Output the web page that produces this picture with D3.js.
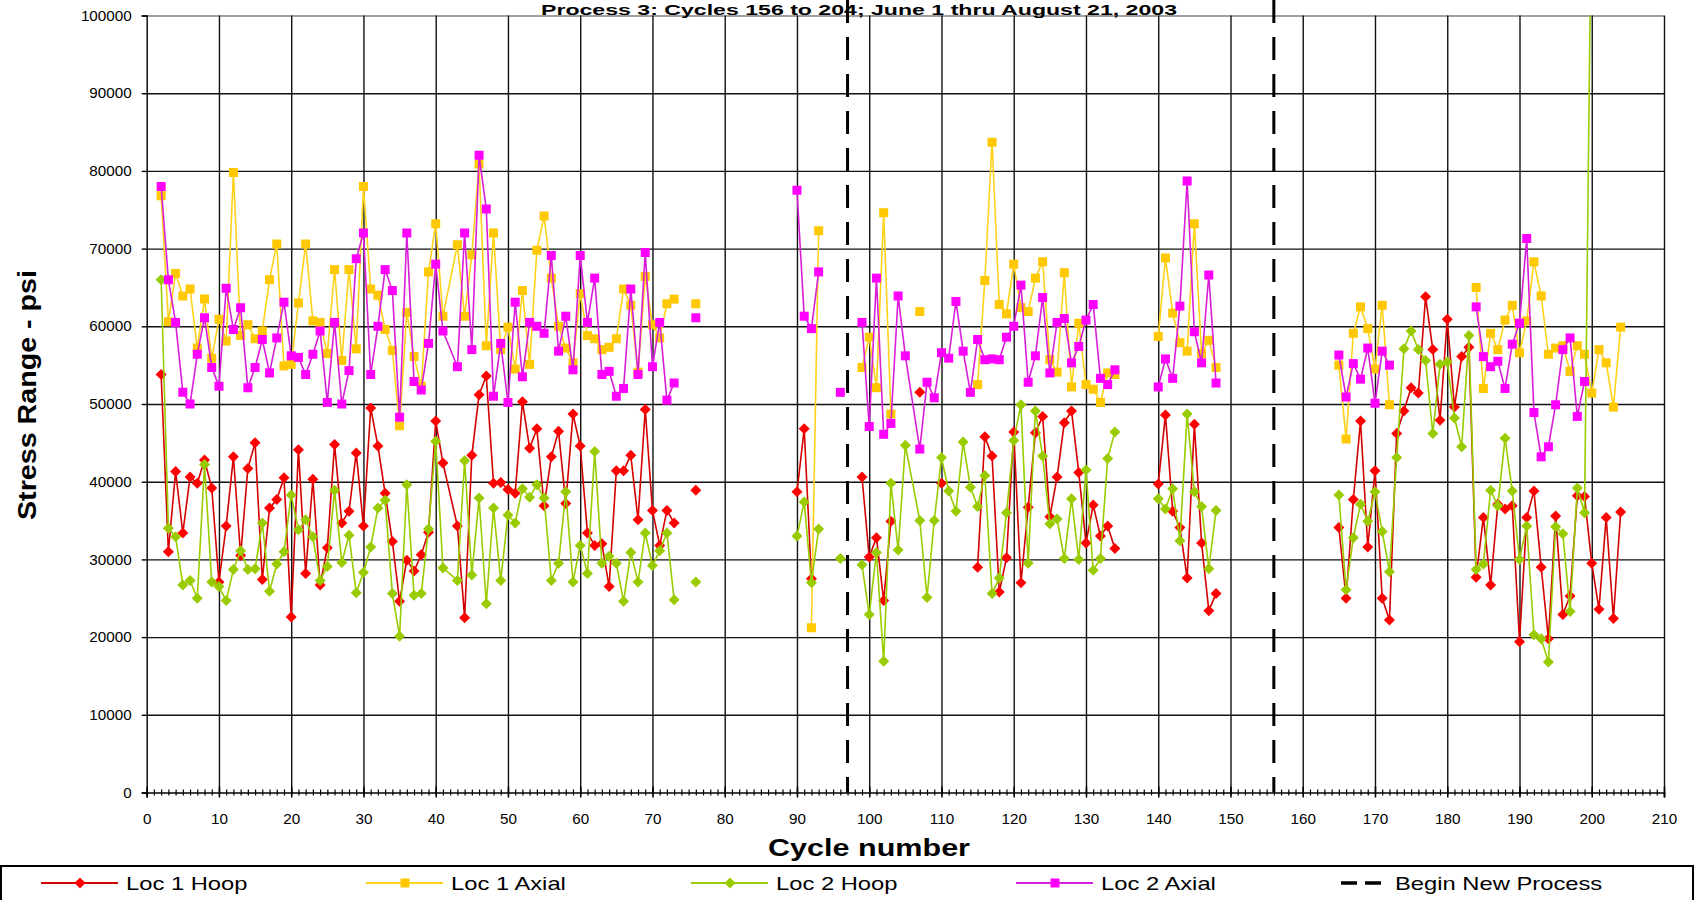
<!DOCTYPE html>
<html>
<head>
<meta charset="utf-8">
<script src="https://cdnjs.cloudflare.com/ajax/libs/d3/7.8.5/d3.min.js"></script>
<style>
  html, body { margin: 0; padding: 0; background: #fff; }
  svg { display: block; font-family: "Liberation Sans", Arial, sans-serif; }
</style>
</head>
<body>
<svg id="chart"></svg>
<script>
// cycle numbers; a row of nulls breaks the lines (blank rows in the sheet)
const cycles = [
  2, 3, 4, 5, 6, 7, 8, 9, 10, 11, 12, 13, 14, 15, 16, 17, 18, 19, 20, 21,
  22, 23, 24, 25, 26, 27, 28, 29, 30, 31, 32, 33, 34, 35, 36, 37, 38, 39, 40, 41,
  43, 44, 45, 46, 47, 48, 49, 50, 51, 52, 53, 54, 55, 56, 57, 58, 59, 60, 61, 62,
  63, 64, 65, 66, 67, 68, 69, 70, 71, 72, 73, 74,
  76, 77,
  90, 91, 92, 93, 94,
  96, 97,
  99, 100, 101, 102, 103, 104, 105,
  107, 108, 109, 110, 111, 112, 113, 114, 115, 116, 117, 118, 119, 120, 121, 122, 123, 124, 125, 126,
  127, 128, 129, 130, 131, 132, 133, 134, 135,
  140, 141, 142, 143, 144, 145, 146, 147, 148, 149,
  165, 166, 167, 168, 169, 170, 171, 172, 173, 174, 175, 176, 177, 178, 179, 180, 181, 182, 183, 184,
  185, 186, 187, 188, 189, 190, 191, 192, 193, 194, 195, 196, 197, 198, 199, 200, 201, 202, 203, 204
];

const loc1Hoop = [
  53800, 31000, 41300, 33400, 40600, 39800, 42800, 39200, 27100, 34300,
  43200, 30500, 41700, 45000, 27400, 36600, 37700, 40500, 22600, 44100,
  28200, 40300, 26700, 31500, 44800, 34700, 36200, 43700, 34300, 49500,
  44600, 38500, 32300, 24600, 29900, 28500, 30600, 33500, 47800, 42400,
  34300, 22500, 43400, 51200, 53600, 39800, 39900, 39000, 38500, 50300,
  44300, 46800, 36900, 43200, 46500, 37200, 48700, 44600, 33400, 31800,
  32000, 26500, 41400, 41400, 43400, 35100, 49300, 36300, 31800, 36300,
  34700, null,
  38900, null,
  38700, 46800, 27500, null, null,
  null, null,
  40600, 30300, 32800, 24700, 34900, null, null,
  51500, null, null, 39800, null, null, null, null, 29000, 45800,
  43300, 25800, 30200, 46400, 27000, 36700, 46300, 48400, 35500, 40600,
  47600, 49100, 41200, 32100, 37000, 33000, 34300, 31400, null,
  39700, 48600, 36200, 34100, 27600, 47400, 32100, 23400, 25600, null,
  34100, 25000, 37700, 47800, 31600, 41400, 25000, 22200, 46200, 49100,
  52100, 51400, 63800, 57000, 47900, 60900, 49600, 56100, 57300, 27700,
  35400, 26700, 37100, 36500, 36900, 19400, 35400, 38800, 29000, 19800,
  35600, 22900, 25300, 38200, 38100, 29500, 23600, 35400, 22400, 36100
];

const loc1Axial = [
  76800, 60600, 66800, 63900, 64800, 57200, 63500, 55900, 60900, 58100,
  79800, 58800, 60200, 58400, 59400, 66000, 70600, 54900, 55100, 63000,
  70600, 60700, 60500, 56500, 67300, 55600, 67300, 57100, 78000, 64800,
  64000, 59600, 56900, 47200, 61800, 56100, 52300, 67000, 73200, 61300,
  70500, 61300, 69200, 80900, 57500, 72000, 57000, 59900, 54500, 64600,
  55100, 69800, 74200, 66200, 60000, 57200, 55300, 64200, 58800, 58400,
  57000, 57300, 58400, 64800, 62700, 54100, 66400, 60200, 58500, 62900,
  63500, null,
  62900, null,
  null, null, 21200, 72300, null,
  null, null,
  54700, 58600, 52100, 74600, 48700, null, null,
  61900, null, null, null, null, null, null, null, 52500, 65900,
  83700, 62800, 61600, 68000, 62400, 61900, 66200, 68300, 55700, 54100,
  66900, 52200, 60400, 52500, 51900, 50200, 54000, 53800, null,
  58700, 68800, 61700, 57900, 56800, 73200, 56500, 58200, 54700, null,
  55000, 45500, 59100, 62500, 59700, 54500, 62700, 49900, null, null,
  null, null, null, null, null, null, null, null, null, 65000,
  52000, 59100, 57000, 60800, 62700, 56600, 60700, 68300, 63900, 56400,
  57200, 57500, 54200, 57500, 56400, 51400, 57000, 55300, 49600, 59900
];

const loc2Hoop = [
  66000, 34000, 32900, 26700, 27300, 25000, 42200, 27100, 26500, 24700,
  28700, 31100, 28700, 28800, 34700, 25900, 29400, 31000, 38300, 33800,
  35100, 32900, 27300, 29100, 38900, 29600, 33100, 25700, 28300, 31600,
  36600, 37600, 25600, 20100, 39600, 25400, 25600, 33900, 45200, 28900,
  27300, 42700, 28000, 37900, 24300, 36600, 27300, 35700, 34700, 39100,
  38000, 39600, 37900, 27300, 29500, 38700, 27100, 31800, 28200, 43900,
  29500, 30400, 29500, 24600, 30900, 27100, 33400, 29200, 31100, 33400,
  24800, null,
  27100, null,
  33000, 37400, 27000, 33900, null,
  30100, null,
  29300, 22900, 30900, 16900, 39800, 31200, 44700,
  35000, 25100, 35000, 43100, 38800, 36200, 45100, 39300, 36800, 40800,
  25600, 27600, 36000, 45300, 49900, 29500, 49100, 43300, 34600, 35200,
  30100, 37800, 30000, 41500, 28600, 30100, 43000, 46400, null,
  37800, 36500, 39100, 32400, 48700, 38700, 36800, 28800, 36300, null,
  38300, 26100, 32800, 37100, 34900, 38700, 33600, 28400, 43100, 57100,
  59400, 57000, 55600, 46200, 55100, 55400, 48200, 44500, 58800, 28700,
  29400, 38900, 36900, 45600, 38800, 30000, 34300, 20300, 19800, 16800,
  34200, 33300, 23300, 39200, 36000, 120000, null, null, null, null
];

const loc2Axial = [
  78000, 66000, 60500, 51500, 50000, 56400, 61100, 54700, 52300, 64900,
  59600, 62400, 52100, 54700, 58300, 54000, 58500, 63100, 56200, 56000,
  53800, 56400, 59400, 50200, 60500, 50000, 54300, 68700, 72000, 53800,
  60000, 67300, 64600, 48300, 72000, 52900, 51800, 57800, 68000, 59400,
  54800, 72000, 57000, 82000, 75100, 51000, 57800, 50200, 63100, 53500,
  60500, 60000, 59100, 69100, 56800, 61300, 54400, 69100, 60500, 66200,
  53800, 54200, 51000, 52000, 64800, 53800, 69500, 54800, 60500, 50500,
  52700, null,
  61100, null,
  77500, 61300, 59700, 67000, null,
  51500, null,
  60500, 47100, 66200, 46100, 47500, 63900, 56200,
  44200, 52800, 50800, 56600, 55900, 63200, 56800, 51500, 58300, 55700,
  55800, 55700, 58600, 60000, 65300, 52800, 56200, 63700, 54000, 60500,
  61000, 55300, 57400, 60800, 62800, 53300, 52500, 54400, null,
  52200, 55800, 53300, 62600, 78700, 59300, 55300, 66600, 52700, null,
  56300, 50900, 55200, 53200, 57200, 50100, 56800, 55000, null, null,
  null, null, null, null, null, null, null, null, null, 62500,
  56100, 54800, 55500, 52000, 57700, 60400, 71300, 48900, 43200, 44500,
  49900, 57000, 58500, 48400, 52900, null, null, null, null, null
];

const processStarts = [97, 156];
const seriesNames = ['Loc 1 Hoop', 'Loc 1 Axial', 'Loc 2 Hoop', 'Loc 2 Axial'];
const processLabel = 'Begin New Process';
const xTicks = [0, 10, 20, 30, 40, 50, 60, 70, 80, 90, 100, 110, 120, 130, 140, 150, 160, 170, 180, 190, 200, 210];
const yTicks = [0, 10000, 20000, 30000, 40000, 50000, 60000, 70000, 80000, 90000, 100000];
const chartTitle = 'Process 3: Cycles 156 to 204; June 1 thru August 21, 2003';
const xTitle = 'Cycle number';
const yTitle = 'Stress Range - psi';

let width = 1696;
let height = 900;
let plotLeft = 146.7, plotRight = 1664, plotTop = 15.5, plotBottom = 792.5;

let svg = d3.select('#chart')
  .attr('width', width)
  .attr('height', height)

let xScale = d3.scaleLinear().domain([0, 210]).range([plotLeft, plotRight])
let yScale = d3.scaleLinear().domain([0, 100000]).range([plotBottom, plotTop])

// the picture looks stretched sideways, so some text is widened a little
let stretch = (sel, k) => sel.each(function () {
  let w = this.getComputedTextLength()
  d3.select(this).attr('textLength', w * k).attr('lengthAdjust', 'spacingAndGlyphs')
})

svg.append('rect').attr('width', width).attr('height', height).attr('fill', '#fff')

// grid
svg.append('g')
   .attr('transform', `translate(${plotLeft},0)`)
   .call(d3.axisLeft(yScale).tickValues(yTicks.slice(1)).tickSize(-(plotRight - plotLeft)).tickFormat(''))
   .call(g => g.select('.domain').remove())
   .selectAll('line')
   .attr('stroke', d => d === 100000 ? '#808080' : '#111')
   .attr('stroke-width', 1.4)

svg.append('g')
   .attr('transform', `translate(0,${plotBottom})`)
   .call(d3.axisBottom(xScale).tickValues(xTicks.slice(1)).tickSize(-(plotBottom - plotTop)).tickFormat(''))
   .call(g => g.select('.domain').remove())
   .selectAll('line')
   .attr('stroke', '#111')
   .attr('stroke-width', 1.4)

// axes
let yAxis = svg.append('g')
   .attr('transform', `translate(${plotLeft},0)`)
   .call(d3.axisLeft(yScale).tickValues(yTicks).tickSize(5).tickPadding(10).tickFormat(d3.format('d')))
yAxis.select('.domain').attr('stroke', '#000').attr('stroke-width', 1.4)
yAxis.selectAll('line').attr('stroke', '#000').attr('stroke-width', 1.4)
yAxis.selectAll('text').attr('font-size', 14.5).attr('fill', '#000')
     .attr('font-family', '"Liberation Sans", Arial, sans-serif')
     .call(stretch, 1.05)

let minorAxis = svg.append('g')
   .attr('transform', `translate(0,${plotBottom})`)
   .call(d3.axisBottom(xScale).tickValues(d3.range(0, 211)).tickSize(3).tickFormat(''))
minorAxis.select('.domain').remove()
minorAxis.selectAll('line').attr('y1', -3).attr('y2', 3).attr('stroke', '#000').attr('stroke-width', 1.2)

let xAxis = svg.append('g')
   .attr('transform', `translate(0,${plotBottom})`)
   .call(d3.axisBottom(xScale).tickValues(xTicks).tickSize(5).tickPadding(16))
xAxis.select('.domain').attr('stroke', '#000').attr('stroke-width', 1.6)
xAxis.selectAll('line').attr('y1', -6).attr('y2', 5).attr('stroke', '#000').attr('stroke-width', 1.5)
xAxis.selectAll('text').attr('font-size', 14.5).attr('fill', '#000')
     .attr('font-family', '"Liberation Sans", Arial, sans-serif')
     .call(stretch, 1.05)

// series
let clip = svg.append('clipPath').attr('id', 'plot-clip')
clip.append('rect').attr('x', plotLeft).attr('y', plotTop).attr('width', plotRight - plotLeft).attr('height', plotBottom - plotTop)

let plot = svg.append('g').attr('clip-path', 'url(#plot-clip)')

let diamond = 'M0,-5.5L5.5,0L0,5.5L-5.5,0Z'
let square = 'M-4.5,-4.5H4.5V4.5H-4.5Z'

let series = [
  { name: seriesNames[0], values: loc1Hoop, line: '#D40000', fill: '#FF0000', shape: diamond },
  { name: seriesNames[1], values: loc1Axial, line: '#FFD21A', fill: '#FFC800', shape: square },
  { name: seriesNames[2], values: loc2Hoop, line: '#99CC00', fill: '#99CC00', shape: diamond },
  { name: seriesNames[3], values: loc2Axial, line: '#D81ED8', fill: '#FF00FF', shape: square }
]

let lineGen = d3.line()
   .defined(d => d[1] != null)
   .x(d => xScale(d[0]))
   .y(d => yScale(d[1]))

series.forEach(s => {
  let pts = cycles.map((c, i) => [c, s.values[i]])
  plot.append('path')
      .datum(pts)
      .attr('d', lineGen)
      .attr('fill', 'none')
      .attr('stroke', s.line)
      .attr('stroke-width', 1.6)
  plot.selectAll(null)
      .data(pts.filter(d => d[1] != null))
      .enter()
      .append('path')
      .attr('d', s.shape)
      .attr('transform', d => `translate(${xScale(d[0])},${yScale(d[1])})`)
      .attr('fill', s.fill)
})

// process boundaries
svg.selectAll(null)
   .data(processStarts)
   .enter()
   .append('line')
   .attr('x1', d => xScale(d))
   .attr('x2', d => xScale(d))
   .attr('y1', yScale(102000))
   .attr('y2', yScale(0))
   .attr('stroke', '#000')
   .attr('stroke-width', 3)
   .attr('stroke-dasharray', '23,14')

// titles
svg.append('text')
   .attr('x', 859)
   .attr('y', 14.5)
   .attr('text-anchor', 'middle')
   .attr('font-weight', 'bold')
   .attr('font-size', 15.5)
   .attr('textLength', 636)
   .attr('lengthAdjust', 'spacingAndGlyphs')
   .text(chartTitle)

svg.append('text')
   .attr('x', 869)
   .attr('y', 856)
   .attr('text-anchor', 'middle')
   .attr('font-weight', 'bold')
   .attr('font-size', 24)
   .attr('textLength', 202)
   .attr('lengthAdjust', 'spacingAndGlyphs')
   .text(xTitle)

svg.append('text')
   .attr('transform', 'translate(36,395) rotate(-90)')
   .attr('text-anchor', 'middle')
   .attr('font-weight', 'bold')
   .attr('font-size', 26)
   .attr('textLength', 250)
   .attr('lengthAdjust', 'spacingAndGlyphs')
   .text(yTitle)

// legend
let legend = svg.append('g')
legend.append('rect')
   .attr('x', 1).attr('y', 866)
   .attr('width', 1692).attr('height', 60)
   .attr('fill', '#fff').attr('stroke', '#000').attr('stroke-width', 2)

let legendY = 883
let items = legend.selectAll('g.item')
   .data(series)
   .enter()
   .append('g')
   .attr('class', 'item')
   .attr('transform', (d, i) => `translate(${41 + i * 325},${legendY})`)

items.append('line')
   .attr('x1', 0).attr('x2', 77)
   .attr('stroke', d => d.line).attr('stroke-width', 1.8)
items.append('path')
   .attr('d', d => d.shape)
   .attr('transform', 'translate(39,0)')
   .attr('fill', d => d.fill)
items.append('text')
   .attr('x', 85).attr('y', 7)
   .attr('font-size', 19)
   .text(d => d.name)
   .call(stretch, 1.25)

let processItem = legend.append('g').attr('transform', `translate(${41 + 4 * 325},${legendY})`)
processItem.append('line')
   .attr('x1', 0).attr('x2', 40)
   .attr('stroke', '#000').attr('stroke-width', 3.5)
   .attr('stroke-dasharray', '16,8')
processItem.append('text')
   .attr('x', 54).attr('y', 7)
   .attr('font-size', 19)
   .text(processLabel)
   .call(stretch, 1.25)
</script>
</body>
</html>
